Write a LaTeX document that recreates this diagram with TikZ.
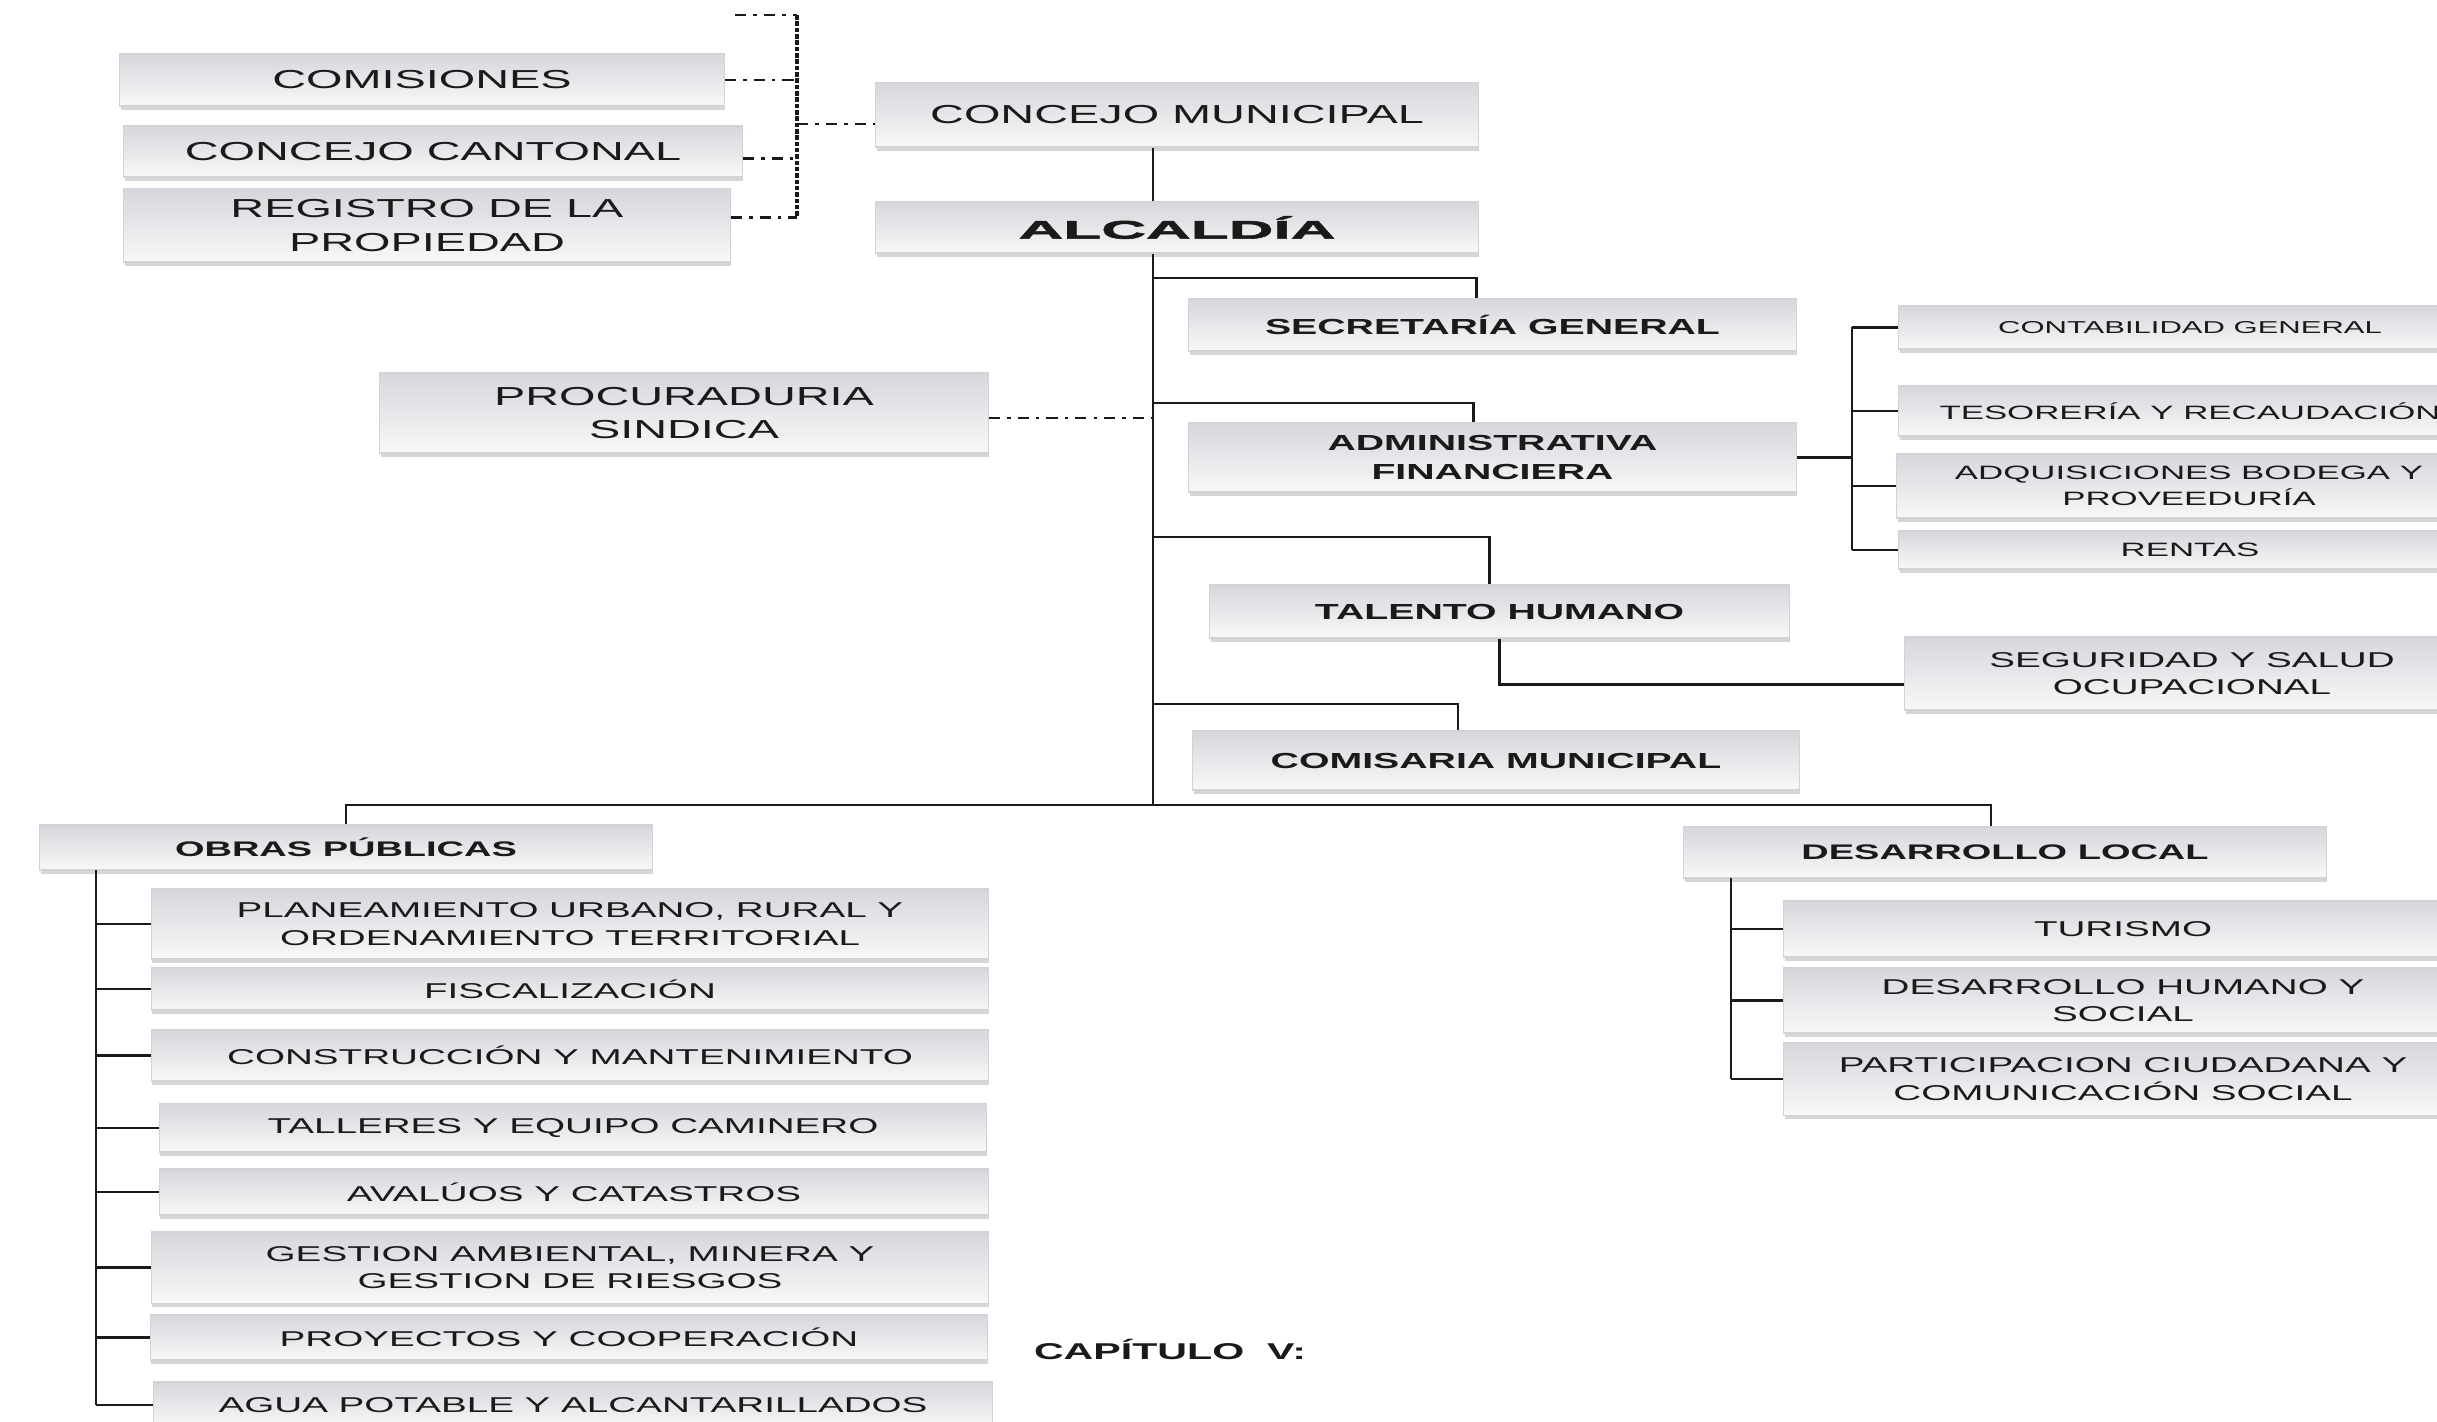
\documentclass[tikz,border=0pt]{standalone}
\usepackage{fontspec}
\setmainfont[FakeStretch=1.8]{Liberation Sans}
\newfontfamily\heavyfont[FakeStretch=2.45,FakeBold=2.5]{Liberation Sans Bold}
\usepackage{xcolor}
\usepackage{tikz}
\usetikzlibrary{calc,shadows}
\definecolor{boxtop}{HTML}{D6D7DC}
\definecolor{boxbot}{HTML}{F8F8F9}
\definecolor{boxedge}{HTML}{D2D3D7}
\definecolor{ink}{HTML}{1A1A1A}
\tikzset{
  box/.style={rectangle, draw=boxedge, line width=0.3pt, top color=boxtop, bottom color=boxbot,
    drop shadow={shadow xshift=0.2pt, shadow yshift=-1pt, opacity=0.35, fill=black!45},
    inner sep=0pt, align=center, text=ink},
  big/.style={font=\fontsize{7.4}{9.6}\selectfont},
  mid/.style={font=\fontsize{6.2}{8}\selectfont\bfseries},
  sml/.style={font=\fontsize{5.5}{7.2}\selectfont},
  low/.style={font=\fontsize{6.1}{7.8}\selectfont},
  lowb/.style={font=\fontsize{6}{7.6}\selectfont\bfseries},
  link/.style={line width=0.65pt, draw=ink},
  dd/.style={line width=0.8pt, draw=ink, dash pattern=on 3.2pt off 2pt on 1pt off 2pt},
  ddv/.style={line width=1.1pt, draw=ink, dash pattern=on 1.3pt off 0.5pt}
}

\begin{document}
\begin{tikzpicture}[x=0.01cm,y=-0.01cm]
  \fill[white] (0,0) rectangle (2437,1422);
  \useasboundingbox (0,0) rectangle (2437,1422);

  % upper part
  \node[box,big,minimum width=6.04cm,minimum height=0.52cm] (com) at (422,80) {COMISIONES};
  \node[box,big,minimum width=6.18cm,minimum height=0.51cm] (cant) at (433,151.5) {CONCEJO CANTONAL};
  \node[box,big,minimum width=6.06cm,minimum height=0.73cm] (reg) at (427,225.5) {REGISTRO DE LA\\PROPIEDAD};
  \node[box,big,minimum width=6.02cm,minimum height=0.64cm] (cm) at (1177,115) {CONCEJO MUNICIPAL};
  \node[box,font=\fontsize{7.2}{9}\heavyfont,minimum width=6.02cm,minimum height=0.51cm] (alc) at (1177,227.5) {ALCALDÍA};
  \node[box,big,minimum width=6.08cm,minimum height=0.80cm] (proc) at (684,413) {PROCURADURIA\\SINDICA};

  \node[box,mid,minimum width=6.07cm,minimum height=0.52cm] (sec) at (1492.5,325) {SECRETARÍA GENERAL};
  \node[box,mid,minimum width=6.07cm,minimum height=0.69cm] (adm) at (1492.5,457.5) {ADMINISTRATIVA\\FINANCIERA};
  \node[box,mid,minimum width=5.79cm,minimum height=0.53cm] (tal) at (1499.5,611.5) {TALENTO HUMANO};
  \node[box,mid,minimum width=6.06cm,minimum height=0.59cm] (comis) at (1496,760.5) {COMISARIA MUNICIPAL};

  \node[box,font=\fontsize{4.9}{6.4}\selectfont,minimum width=5.82cm,minimum height=0.43cm] (cont) at (2190,327.5) {CONTABILIDAD GENERAL};
  \node[box,sml,minimum width=5.82cm,minimum height=0.50cm] (tes) at (2190,411) {TESORERÍA Y RECAUDACIÓN};
  \node[box,sml,minimum width=5.84cm,minimum height=0.64cm] (adq) at (2189,486) {ADQUISICIONES BODEGA Y\\PROVEEDURÍA};
  \node[box,sml,minimum width=5.82cm,minimum height=0.38cm] (ren) at (2190,550) {RENTAS};
  \node[box,low,minimum width=5.74cm,minimum height=0.73cm] (seg) at (2192,673.5) {SEGURIDAD Y SALUD\\OCUPACIONAL};

  % lower part
  \node[box,lowb,minimum width=6.12cm,minimum height=0.45cm] (obras) at (346,847.5) {OBRAS PÚBLICAS};
  \node[box,lowb,minimum width=6.42cm,minimum height=0.51cm] (des) at (2005,852.5) {DESARROLLO LOCAL};

  \node[box,low,minimum width=8.37cm,minimum height=0.70cm] (plan) at (570,924) {PLANEAMIENTO URBANO, RURAL Y\\ORDENAMIENTO TERRITORIAL};
  \node[box,low,minimum width=8.37cm,minimum height=0.42cm] (fisc) at (570,989) {FISCALIZACIÓN};
  \node[box,low,minimum width=8.37cm,minimum height=0.51cm] (cons) at (570,1055.5) {CONSTRUCCIÓN Y MANTENIMIENTO};
  \node[box,low,minimum width=8.26cm,minimum height=0.48cm] (tall) at (573,1128) {TALLERES Y EQUIPO CAMINERO};
  \node[box,low,minimum width=8.29cm,minimum height=0.46cm] (aval) at (574,1192) {AVALÚOS Y CATASTROS};
  \node[box,low,minimum width=8.37cm,minimum height=0.71cm] (gest) at (570,1267.5) {GESTION AMBIENTAL, MINERA Y\\GESTION DE RIESGOS};
  \node[box,low,minimum width=8.37cm,minimum height=0.45cm] (proy) at (569,1337.5) {PROYECTOS Y COOPERACIÓN};
  \node[box,low,minimum width=8.39cm,minimum height=0.46cm] (agua) at (573,1405) {AGUA POTABLE Y ALCANTARILLADOS};

  \node[box,low,minimum width=6.78cm,minimum height=0.56cm] (tur) at (2123,929) {TURISMO};
  \node[box,low,minimum width=6.78cm,minimum height=0.65cm] (dh) at (2123,1000.5) {DESARROLLO HUMANO Y\\SOCIAL};
  \node[box,low,minimum width=6.78cm,minimum height=0.72cm] (par) at (2123,1079) {PARTICIPACION CIUDADANA Y\\COMUNICACIÓN SOCIAL};

  \node[text=ink,font=\fontsize{6.5}{8}\selectfont\bfseries] (capv) at (1170,1349) {CAPÍTULO\ \ V:};

  \coordinate (bk) at (797,15);
  \coordinate (bktop) at (735,15);
  \coordinate (bus) at (1153,805);
  \coordinate (j1) at (1153,278);
  \coordinate (j2) at (1153,403);
  \coordinate (j3) at (1153,537);
  \coordinate (j4) at (1153,704);
  \coordinate (rk) at (1852,456);
  \coordinate (ob) at (96,870);
  \coordinate (dk) at (1731,878);
  \coordinate (cantE) at ([yshift=-0.07cm]cant.east);
  \coordinate (regE) at ([yshift=0.08cm]reg.east);
  \coordinate (cmW) at ([yshift=-0.09cm]cm.west);
  \coordinate (procE) at ([yshift=-0.05cm]proc.east);
  \coordinate (segW) at ([yshift=-0.11cm]seg.west);

  % dashed bracket
  \draw[ddv] (bk) -- (bk |- regE);
  \draw[dd] (bktop) -- (bk);
  \draw[dd] (com.east) -- (com.east -| bk);
  \draw[dd] (cantE) -- (cantE -| bk);
  \draw[dd] (regE) -- (regE -| bk);
  \draw[dd] (cmW -| bk) -- (cmW);
  \draw[dd] (procE) -- (procE -| bus);

  % solid lines
  \draw[link] (cm.south -| bus) -- (alc.north -| bus);
  \draw[link] (alc.south -| bus) -- (bus);
  \draw[link] (j1) -| ([xshift=-0.16cm]sec.north);
  \draw[link] (j2) -| ([xshift=-0.19cm]adm.north);
  \draw[link] (j3) -| ([xshift=-0.10cm]tal.north);
  \draw[link] (j4) -| ([xshift=-0.38cm]comis.north);
  \draw[link] (adm.east) -- (adm.east -| rk);
  \draw[link] (rk |- cont.west) -- (rk |- ren.west);
  \foreach \n in {cont,tes,adq,ren} \draw[link] (rk |- \n.west) -- (\n.west);
  \draw[link] (tal.south) |- (segW);

  \draw[link] (bus) -| (obras.north);
  \draw[link] (bus) -| ([xshift=-0.14cm]des.north);
  \draw[link] (ob) -- (ob |- agua.west);
  \foreach \n in {plan,fisc,cons,tall,aval,gest,proy,agua} \draw[link] (ob |- \n.west) -- (\n.west);
  \draw[link] (dk) -- (dk |- par.west);
  \foreach \n in {tur,dh,par} \draw[link] (dk |- \n.west) -- (\n.west);
\end{tikzpicture}
\end{document}
